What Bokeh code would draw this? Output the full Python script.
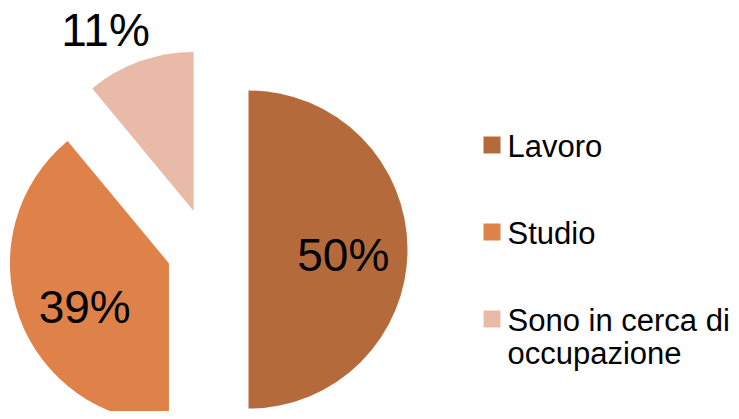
import numpy as np
from bokeh.plotting import figure
from bokeh.models import Range1d, ColumnDataSource
from bokeh.core.properties import value
from bokeh.embed import file_html
from bokeh.resources import INLINE

categories = ["Lavoro", "Studio", "Sono in cerca di\noccupazione"]
values = [50, 39, 11]
labels = ["50%", "39%", "11%"]
colors = ["#B56A3B", "#DF8249", "#EABAA8"]

W, H = 731, 411
CX, CY = 207, 249  # pie centre, px from figure left / top
R = 159
EXPLODE = 41
label_r = [95, 95, 201]
label_adj_deg = [-3.6, 7.8, 6.2]

vals = np.array(values, dtype=float)
frac = vals / vals.sum()
c1 = np.cumsum(frac)
c0 = c1 - frac
start = np.pi / 2 - 2 * np.pi * c1
end = np.pi / 2 - 2 * np.pi * c0
mid = np.pi / 2 - np.pi * (c0 + c1)
ox = EXPLODE * np.cos(mid)
oy = EXPLODE * np.sin(mid)
la = mid + np.deg2rad(label_adj_deg)
lr = np.array(label_r, dtype=float)
lx = ox + lr * np.cos(la)
ly = oy + lr * np.sin(la)

p = figure(width=W, height=H, output_backend="svg", toolbar_location=None,
           x_range=Range1d(-CX, W - CX), y_range=Range1d(-(H - CY), CY),
           min_border=0)
p.axis.visible = False
p.grid.visible = False
p.outline_line_color = None
p.background_fill_color = "white"
p.border_fill_color = "white"

src = ColumnDataSource(dict(x=ox, y=oy, start=start, end=end, color=colors,
                            lx=lx, ly=ly, label=labels))
p.wedge(x="x", y="y", radius=R, start_angle="start", end_angle="end",
        fill_color="color", line_color=None, source=src)
p.text(x="lx", y="ly", text="label", source=src, text_align="center",
       text_baseline="middle", text_font=value("Liberation Sans"),
       text_font_size="46px", text_color="black")

# legend
leg_x = 284.5
leg_y = [104.5, 17.5, -69.5]
line_gap = 33
p.rect(x=[leg_x] * 3, y=leg_y, width=17, height=17, fill_color=colors,
       line_color=None)
tx, ty, tt = [], [], []
for yc, cat in zip(leg_y, categories):
    for k, line in enumerate(cat.split("\n")):
        tx.append(leg_x + 15.5)
        ty.append(yc - 1 - k * line_gap)
        tt.append(line)
p.text(x=tx, y=ty, text=tt, text_align="left", text_baseline="middle",
       text_font=value("Liberation Sans"), text_font_size="31px",
       text_color="black")

open("out.html", "w").write(file_html(p, INLINE))
